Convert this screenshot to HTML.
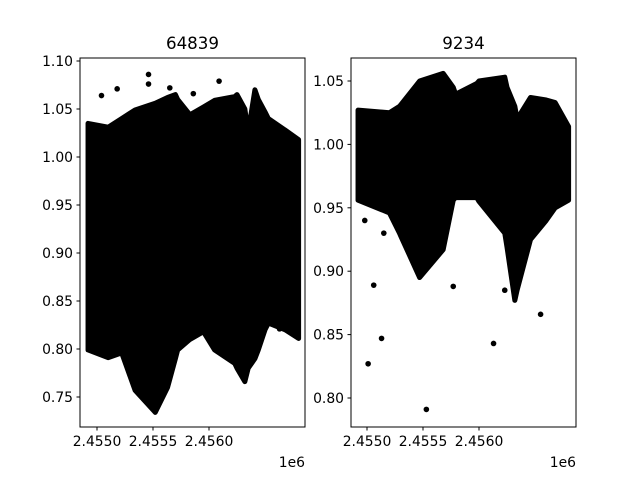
<!DOCTYPE html>
<html><head><meta charset="utf-8"><style>
body{margin:0;background:#fff;}
svg{display:block;font-family:"DejaVu Sans","Liberation Sans",sans-serif;}
</style></head><body>
<svg id="chart" width="640" height="480" viewBox="0 0 640 480"></svg>
<script>
// x values are in thousands of days after 2,455,000
const leftTimes = [-0.08,0.1,0.22,0.34,0.52,0.63,0.7,0.72,0.83,0.95,1.05,1.23,1.25,1.32,1.35,1.41,1.44,1.5,1.53,1.68,1.8];
const leftUpper = [1.035,1.031,1.04,1.049,1.056,1.062,1.065,1.06,1.044,1.052,1.059,1.063,1.065,1.05,1.026,1.07,1.06,1.047,1.04,1.028,1.018];
const leftLower = [0.799,0.791,0.796,0.757,0.734,0.76,0.79,0.799,0.81,0.818,0.799,0.785,0.78,0.766,0.78,0.79,0.799,0.82,0.827,0.82,0.811];
const leftOutT = [0.04,0.18,0.46,0.46,1.09,0.86,0.65,1.63];
const leftOutV = [1.064,1.071,1.086,1.076,1.079,1.066,1.072,0.821];

const rightTimes = [-0.08,0.2,0.29,0.3,0.47,0.68,0.77,0.79,0.8,0.98,1.0,1.23,1.25,1.32,1.34,1.46,1.6,1.68,1.8];
const rightUpper = [1.027,1.025,1.03,1.031,1.05,1.056,1.045,1.04,1.04,1.048,1.05,1.053,1.045,1.03,1.02,1.037,1.035,1.033,1.014];
const rightLower = [0.956,0.946,0.93,0.928,0.895,0.917,0.956,0.958,0.958,0.958,0.955,0.93,0.919,0.877,0.885,0.925,0.94,0.95,0.956];
const rightOutT = [0.01,0.06,0.13,0.53,0.77,1.13,1.55,1.23,-0.02,0.15,0.45];
const rightOutV = [0.827,0.889,0.847,0.791,0.888,0.843,0.866,0.885,0.94,0.93,1.04];

const leftTicksY = [0.75,0.80,0.85,0.90,0.95,1.00,1.05,1.10];
const rightTicksY = [0.80,0.85,0.90,0.95,1.00,1.05];
const ticksX = [0,0.5,1.0];
const tickLabelsX = ["2.4550","2.4555","2.4560"];

const NS="http://www.w3.org/2000/svg";
const svg=document.getElementById('chart');
function mk(tag,attrs,parent){const e=document.createElementNS(NS,tag);for(const k in attrs)e.setAttribute(k,attrs[k]);(parent||svg).appendChild(e);return e;}

function panel(cfg){
  const g=mk('g',{});
  
  
  const xs=t=>cfg.x0+t*112;
  const ys=v=>cfg.yRef+(cfg.vRef-v)/0.05*cfg.pxPer;
  let pts=[];
  cfg.times.forEach((t,i)=>pts.push(xs(t)+','+ys(cfg.upper[i])));
  for(let i=cfg.times.length-1;i>=0;i--)pts.push(xs(cfg.times[i])+','+ys(cfg.lower[i]));
  const poly=mk('polygon',{points:pts.join(' '),fill:'#000',stroke:'#000','stroke-width':5,'stroke-linejoin':'round'},g);
  
  
  cfg.outT.forEach((t,i)=>{
    const c=mk('circle',{cx:xs(t),cy:ys(cfg.outV[i]),r:2.8,fill:'#000'},g);
    
    
  });
  const fr=mk('rect',{x:cfg.left,y:58,width:225,height:369,fill:'none',stroke:'#000','stroke-width':1},g);
  
  
  cfg.ticksY.forEach(v=>{
    const y=ys(v);
    mk('line',{x1:cfg.left-3.5,x2:cfg.left,y1:y,y2:y,stroke:'#000'},g);
    const tx=mk('text',{x:cfg.left-7,y:y+5,'text-anchor':'end','font-size':13.9},g);
    tx.textContent=v.toFixed(2);
    
    
  });
  ticksX.forEach((t,i)=>{
    const x=xs(t);
    mk('line',{x1:x,x2:x,y1:427,y2:430.5,stroke:'#000'},g);
    const tx=mk('text',{x:x,y:446,'text-anchor':'middle','font-size':13.9},g);
    tx.textContent=tickLabelsX[i];
    
    
  });
  const off=mk('text',{x:cfg.left+225,y:467,'text-anchor':'end','font-size':13.9},g);
  off.textContent='1e6';
  
  
  const ti=mk('text',{x:cfg.left+112.5,y:49,'text-anchor':'middle','font-size':16.7},g);
  ti.textContent=cfg.title;
  
  
}
panel({name:'left-panel',title:'64839',left:80,x0:97,yRef:61,vRef:1.10,pxPer:48,times:leftTimes,upper:leftUpper,lower:leftLower,outT:leftOutT,outV:leftOutV,ticksY:leftTicksY});
panel({name:'right-panel',title:'9234',left:351,x0:367,yRef:81,vRef:1.05,pxPer:63.4,times:rightTimes,upper:rightUpper,lower:rightLower,outT:rightOutT,outV:rightOutV,ticksY:rightTicksY});
</script>
</body></html>
